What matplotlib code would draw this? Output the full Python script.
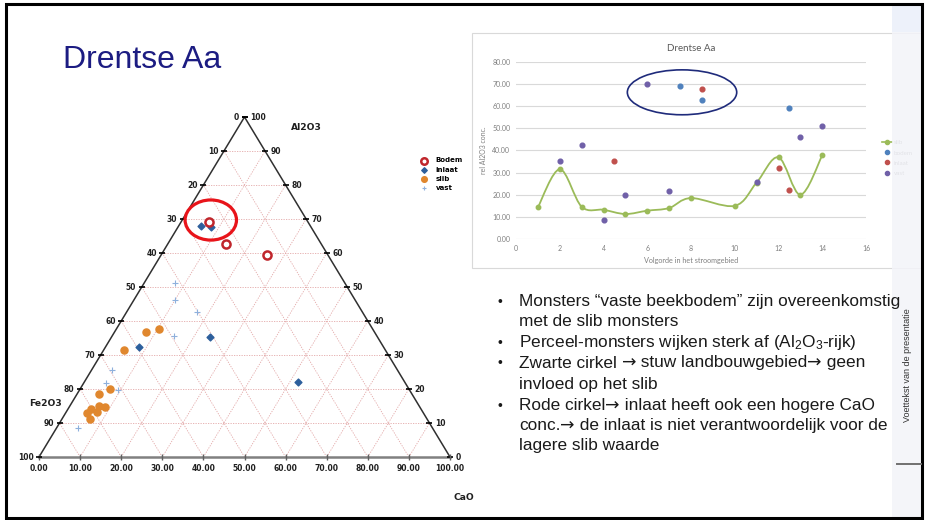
import numpy as np
import matplotlib.pyplot as plt
from matplotlib.patches import Ellipse, Rectangle, PathPatch
from matplotlib.path import Path

W, H = 926, 520

# ternary diagram: CaO and Al2O3 in %, Fe2O3 is the rest
bodem_cao = [6.7, 14.2, 25.7]
bodem_al = [69.2, 62.6, 59.4]
inlaat_cao = [5.6, 8.0, 24.1, 8.2, 51.9]
inlaat_al = [67.8, 67.6, 35.2, 32.4, 22.0]
slib_cao = [10.4, 7.6, 5.1, 7.3, 5.4, 7.0, 8.7, 5.7, 5.4, 7.6, 6.8]
slib_al = [37.7, 36.7, 31.4, 20.0, 18.4, 15.0, 14.6, 14.0, 12.8, 13.1, 11.3]
vast_cao = [7.5, 10.1, 17.2, 15.0, 4.8, 5.5, 9.4, 5.2]
vast_al = [51.1, 46.1, 42.6, 35.5, 25.7, 21.8, 19.8, 8.5]

# line chart: rel Al2O3 conc. along the stream
slib_pos = [1, 2, 3, 4, 5, 6, 7, 8, 10, 11, 12, 13, 14]
slib_rel = [14.3, 31.5, 14.6, 13.2, 11.3, 12.8, 14.0, 18.5, 15.0, 25.5, 36.9, 20.0, 37.8]
bodem_pos = [7.5, 8.5, 12.5]
bodem_rel = [69.2, 62.6, 59.3]
inlaat_pos = [4.5, 8.5, 12, 12.5]
inlaat_rel = [35.1, 67.7, 32.2, 22.0]
vast_pos = [2, 3, 4, 5, 6, 7, 11, 13, 14]
vast_rel = [35.4, 42.6, 8.4, 19.7, 70.1, 21.5, 25.6, 45.9, 50.9]

bullets = [
    ("Monsters \u201cvaste beekbodem\u201d zijn overeenkomstig", True),
    ("met de slib monsters", False),
    ("Perceel-monsters wijken sterk af (Al$_2$O$_3$-rijk)", True),
    ("Zwarte cirkel \u2192 stuw landbouwgebied\u2192 geen", True),
    ("invloed op het slib", False),
    ("Rode cirkel\u2192 inlaat heeft ook een hogere CaO", True),
    ("conc.\u2192 de inlaat is niet verantwoordelijk voor de", False),
    ("lagere slib waarde", False),
]

plt.rcParams['mathtext.fontset'] = 'custom'
plt.rcParams['mathtext.rm'] = 'Liberation Sans'
plt.rcParams['mathtext.it'] = 'Liberation Sans'

fig = plt.figure(figsize=(W / 100, H / 100), dpi=100)


def box(l, t, r, b):
    return [l / W, 1 - b / H, (r - l) / W, (b - t) / H]


bg = fig.add_axes([0, 0, 1, 1], zorder=0)
bg.set_xlim(0, W)
bg.set_ylim(H, 0)
bg.axis('off')

bg.text(63, 60, "Drentse Aa", fontsize=23, color='#1c1c82',
        family='Liberation Sans', va='center', ha='left')

# chart panel
bg.add_patch(Rectangle((472, 33), 449, 235, fc='white', ec='#d9d9d9', lw=0.8))

# ---- ternary plot ----
ax = fig.add_axes(box(39, 117, 450, 457), zorder=1)
ax.set_xlim(0, 100)
ax.set_ylim(0, 100)
ax.axis('off')
ax.patch.set_alpha(0)


def tern(cao, al):
    cao = np.asarray(cao, float)
    al = np.asarray(al, float)
    return cao + al / 2, al


grid = dict(color='#e3a8a8', lw=0.6, ls=(0, (1.5, 1.5)), zorder=1)
for k in range(10, 100, 10):
    ax.plot([k / 2, 100 - k / 2], [k, k], **grid)
    ax.plot([k, k + (100 - k) / 2], [0, 100 - k], **grid)
    ax.plot([100 - k, (100 - k) / 2], [0, 100 - k], **grid)

ax.plot([0, 50, 100], [0, 100, 0], color='#303030', lw=1.1, zorder=2, clip_on=False)
ax.plot([0, 100], [0, 0], color='#808080', lw=1.8, zorder=2, clip_on=False)

lab = dict(fontsize=5.5, fontweight='bold', color='#202020', textcoords='offset points')
for k in range(0, 101, 10):
    # left edge: label counts down from top
    xl, yl = (100 - k) / 2, 100 - k
    ax.plot(xl, yl, marker='_', ms=4, mew=1.2, color='black', clip_on=False, zorder=3)
    ax.annotate(str(k), (xl, yl), xytext=(-4, 0), ha='right', va='center', **lab)
    # right edge
    xr, yr = 100 - k / 2, k
    ax.plot(xr, yr, marker='_', ms=4, mew=1.2, color='black', clip_on=False, zorder=3)
    ax.annotate(str(k), (xr, yr), xytext=(4, 0), ha='left', va='center', **lab)
    # bottom
    ax.plot(k, 0, marker='|', ms=4, mew=1.0, color='#606060', clip_on=False, zorder=3)
    ax.annotate(f"{k:.2f}", (k, 0), xytext=(0, -8), ha='center', va='center', **lab)

tl = dict(fontsize=6.6, fontweight='bold', color='#202020', va='center', ha='center')
bg.text(306, 127, "Al2O3", **tl)
bg.text(45, 403, "Fe2O3", **tl)
bg.text(464, 498, "CaO", **tl)

x, y = tern(bodem_cao, bodem_al)
ax.scatter(x, y, s=34, facecolors='white', edgecolors='#c0262c', linewidths=1.8,
           zorder=5, label='Bodem', clip_on=False)
x, y = tern(inlaat_cao, inlaat_al)
ax.scatter(x, y, s=12, marker='D', color='#2d5f9c', zorder=4, label='inlaat', clip_on=False)
x, y = tern(slib_cao, slib_al)
ax.scatter(x, y, s=26, color='#e0872e', zorder=4, label='slib', clip_on=False)
x, y = tern(vast_cao, vast_al)
ax.scatter(x, y, s=18, marker='+', color='#8eb0dc', linewidths=0.8, zorder=4,
           label='vast', clip_on=False)

ax.legend(loc='upper left', bbox_to_anchor=(417 / W, 1 - 154 / H),
          bbox_transform=fig.transFigure, frameon=False, borderpad=0,
          handletextpad=1.2, labelspacing=0.45, handlelength=1.0,
          prop=dict(size=5, weight='bold'), markerscale=0.8)

ax.add_patch(Ellipse((41.8, 69.7), 12.5, 11.8, fill=False, ec='#e8141a', lw=2.3,
                     zorder=6, clip_on=False))

# ---- line chart ----
cx = fig.add_axes(box(516, 62, 866, 239), zorder=1)
cx.set_xlim(0, 16)
cx.set_ylim(0, 80)
for s in cx.spines.values():
    s.set_visible(False)
cx.set_yticks(np.arange(0, 81, 10))
cx.set_yticklabels([f"{v:.2f}" for v in np.arange(0, 81, 10)])
cx.set_xticks(np.arange(0, 17, 2))
cx.tick_params(length=0, labelsize=5, labelcolor='#7f7f7f', pad=4)
for lbl in cx.get_xticklabels() + cx.get_yticklabels():
    lbl.set_family('Lato')
cx.grid(axis='y', color='#d9d9d9', lw=0.8)
cx.set_axisbelow(True)
cx.patch.set_alpha(0)

# smooth slib line (bezier through the points)
pts = np.column_stack([slib_pos, slib_rel]).astype(float)
verts = [pts[0]]
codes = [Path.MOVETO]
n = len(pts)
for i in range(n - 1):
    p0 = pts[max(i - 1, 0)]
    p1 = pts[i]
    p2 = pts[i + 1]
    p3 = pts[min(i + 2, n - 1)]
    verts += [p1 + (p2 - p0) / 6, p2 - (p3 - p1) / 6, p2]
    codes += [Path.CURVE4] * 3
cx.add_patch(PathPatch(Path(verts, codes), fill=False, ec='#9bbb59', lw=1.3, zorder=3))
cx.plot(slib_pos, slib_rel, 'o', color='#9bbb59', ms=3.2, zorder=4)
cx.plot(bodem_pos, bodem_rel, 'o', color='#4f81bd', ms=3.4, zorder=4)
cx.plot(inlaat_pos, inlaat_rel, 'o', color='#c0504d', ms=3.4, zorder=4)
cx.plot(vast_pos, vast_rel, 'o', color='#7060a8', ms=3.4, zorder=4)
cx.plot([], [], '-o', color='#9bbb59', ms=3, lw=1.2, label='slib')
cx.plot([], [], 'o', color='#4f81bd', ms=3, label='bodem')
cx.plot([], [], 'o', color='#c0504d', ms=3, label='inlaat')
cx.plot([], [], 'o', color='#7060a8', ms=3, label='vast')
handles, labels = cx.get_legend_handles_labels()
cx.legend(handles[-4:], labels[-4:], loc='upper left',
          bbox_to_anchor=(879 / W, 1 - 137 / H), bbox_transform=fig.transFigure,
          frameon=False, borderpad=0, handlelength=1.6, handletextpad=0.3,
          labelspacing=0.75, prop=dict(size=4.5, family='Lato'), labelcolor='#808080')

cx.add_patch(Ellipse((7.59, 66.3), 5.0, 20.3, fill=False, ec='#1f2b7b', lw=1.2, zorder=5))

cx.set_title("Drentse Aa", fontsize=7, color='#595959', family='Lato', pad=8)
cx.set_xlabel("Volgorde in het stroomgebied", fontsize=5.2, color='#808080',
              family='Lato', labelpad=4)
cx.set_ylabel("rel Al2O3 conc.", fontsize=5, color='#808080', family='Lato', labelpad=4)

# ---- overlay: sidebar, bullet text and slide frame ----
ov = fig.add_axes([0, 0, 1, 1], zorder=10)
ov.set_xlim(0, W)
ov.set_ylim(H, 0)
ov.axis('off')
ov.patch.set_alpha(0)
ov.add_patch(Rectangle((892, 4), 30, 28, fc='#edf1fa', ec='none'))
ov.add_patch(Rectangle((892, 32), 30, 486, fc='#f3f4f9', ec='none', alpha=0.85))
ov.plot([897, 921], [464, 464], color='#707070', lw=1.4)
ov.text(907, 365, "Voettekst van de presentatie", rotation=90, fontsize=6.5,
        color='#333333', family='Liberation Sans', ha='center', va='center')

# bullets; arrows drawn in DejaVu Sans, the rest in Liberation Sans
ys = [301.7, 322, 343, 363, 384, 405.7, 425.7, 445.7]
tx = dict(fontsize=12.4, color='#1a1a1a')
for (line, dot), y in zip(bullets, ys):
    if dot:
        ov.text(497, y, "\u2022", fontsize=10, va='center', ha='left',
                family='Liberation Sans', color='#1a1a1a')
    parts = line.split("\u2192")
    prev = ov.text(519, y, parts[0], va='center', ha='left',
                   family='Liberation Sans', **tx)
    for p in parts[1:]:
        prev = ov.annotate("\u2192", xy=(1, 0.5), xycoords=prev, va='center',
                           ha='left', family='DejaVu Sans', **tx)
        prev = ov.annotate(p, xy=(1, 0.5), xycoords=prev, va='center',
                           ha='left', family='Liberation Sans', **tx)

ov.add_patch(Rectangle((6, 4), 916, 514, fill=False, ec='black', lw=2.2))

fig.savefig("out.png", dpi=100)
